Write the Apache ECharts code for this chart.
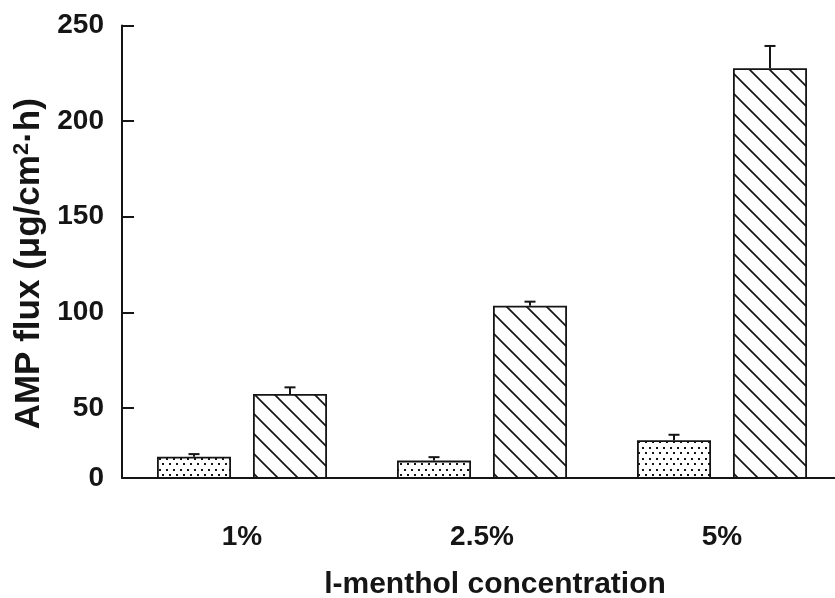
<!DOCTYPE html>
<html>
<head>
<meta charset="utf-8">
<script src="https://cdn.jsdelivr.net/npm/echarts@6/dist/echarts.min.js"></script>
<style>
  html, body { margin: 0; padding: 0; background: #ffffff; }
  #chart { width: 835px; height: 598px; }
</style>
</head>
<body>
<div id="chart"></div>
<script>
// l-menthol concentration groups
const categories = ['1%', '2.5%', '5%'];

// AMP flux (µg/cm²·h), dotted bars, with upper error
const dottedFlux = [24.5, 22.5, 33.2];
const dottedErr = [1.4, 1.8, 2.8];

// AMP flux (µg/cm²·h), hatched bars, with upper error
const hatchedFlux = [57.3, 103.5, 227.7];
const hatchedErr = [3.5, 2.1, 11.6];

// value axis: the baseline sits at yBottom and carries the "0" label
const yBottom = 13.4;
const yTop = 250;
const yTickValues = [50, 100, 150, 200, 250];

const INK = '#151515';
const FONT = '"Liberation Sans", Arial, sans-serif';
const BAR_W = 74;
const BAR_GAP = 22;

function dotPattern() {
  const c = document.createElement('canvas');
  c.width = 14; c.height = 11;
  const g = c.getContext('2d');
  g.fillStyle = '#ffffff';
  g.fillRect(0, 0, 14, 11);
  g.fillStyle = INK;
  [[2, 2], [9, 2], [5.5, 7.5], [12.5, 7.5]].forEach(([x, y]) => {
    g.fillRect(Math.round(x - 1), Math.round(y - 1), 2, 2);
  });
  return c;
}

function hatchPattern() {
  const s = 20;
  const c = document.createElement('canvas');
  c.width = s; c.height = s;
  const g = c.getContext('2d');
  g.fillStyle = '#ffffff';
  g.fillRect(0, 0, s, s);
  g.strokeStyle = INK;
  g.lineWidth = 1.7;
  [-s, 0, s].forEach(o => {
    g.beginPath();
    g.moveTo(o - 2, -2);
    g.lineTo(o + s + 2, s + 2);
    g.stroke();
  });
  return c;
}

function errorSeries(values, errs, side) {
  return {
    type: 'custom',
    z: 5,
    data: values.map((v, i) => [i, v, errs[i]]),
    encode: { x: 0, y: 1 },
    renderItem: function (params, api) {
      const i = api.value(0);
      const v = api.value(1);
      const e = api.value(2);
      const off = side * (BAR_W + BAR_GAP) / 2;
      const p0 = api.coord([i, v]);
      const p1 = api.coord([i, v + e]);
      const x = p0[0] + off;
      const style = { stroke: INK, lineWidth: 2 };
      return {
        type: 'group',
        children: [
          { type: 'line', shape: { x1: x, y1: p0[1], x2: x, y2: p1[1] }, style: style },
          { type: 'line', shape: { x1: x - 5.5, y1: p1[1], x2: x + 5.5, y2: p1[1] }, style: style }
        ]
      };
    }
  };
}

const chart = echarts.init(document.getElementById('chart'), null, { renderer: 'canvas' });

chart.setOption({
  backgroundColor: '#ffffff',
  animation: false,
  grid: { left: 122, right: -7, top: 25.5, bottom: 120, outerBoundsMode: 'none', containLabel: false },
  xAxis: {
    type: 'category',
    data: categories,
    axisLine: { lineStyle: { color: INK, width: 2 } },
    axisTick: { show: false },
    axisLabel: { color: INK, fontFamily: FONT, fontWeight: 'bold', fontSize: 28, margin: 45 },
    name: 'l-menthol concentration',
    nameLocation: 'middle',
    nameGap: 92,
    nameTextStyle: { color: INK, fontFamily: FONT, fontWeight: 'bold', fontSize: 30, padding: [0, 0, 0, 26] }
  },
  yAxis: {
    type: 'value',
    min: yBottom,
    max: yTop,
    splitLine: { show: false },
    axisLine: { show: true, lineStyle: { color: INK, width: 2 } },
    axisTick: { show: true, inside: true, length: 12, lineStyle: { color: INK, width: 2 }, customValues: yTickValues },
    axisLabel: {
      color: INK, fontFamily: FONT, fontWeight: 'bold', fontSize: 28, margin: 18,
      customValues: [yBottom].concat(yTickValues),
      formatter: v => (v === yBottom ? '0' : String(v))
    },
    name: 'AMP flux (μg/cm{sup|2}·h)',
    nameLocation: 'middle',
    nameGap: 63,
    nameTextStyle: {
      color: INK, fontFamily: FONT, fontWeight: 'bold', fontSize: 35, padding: [0, 24, 0, 0],
      rich: { sup: { color: INK, fontFamily: FONT, fontWeight: 'bold', fontSize: 22, verticalAlign: 'top', padding: [0, 0, 14, 0] } }
    }
  },
  series: [
    {
      name: 'dotted',
      type: 'bar',
      barWidth: BAR_W,
      barGap: (BAR_GAP / BAR_W * 100).toFixed(1) + '%',
      clip: true,
      data: dottedFlux,
      itemStyle: { color: { image: dotPattern(), repeat: 'repeat' }, borderColor: INK, borderWidth: 1.8 }
    },
    {
      name: 'hatched',
      type: 'bar',
      barWidth: BAR_W,
      clip: true,
      data: hatchedFlux,
      itemStyle: { color: { image: hatchPattern(), repeat: 'repeat' }, borderColor: INK, borderWidth: 1.8 }
    },
    errorSeries(dottedFlux, dottedErr, -1),
    errorSeries(hatchedFlux, hatchedErr, 1)
  ]
});
</script>
</body>
</html>
